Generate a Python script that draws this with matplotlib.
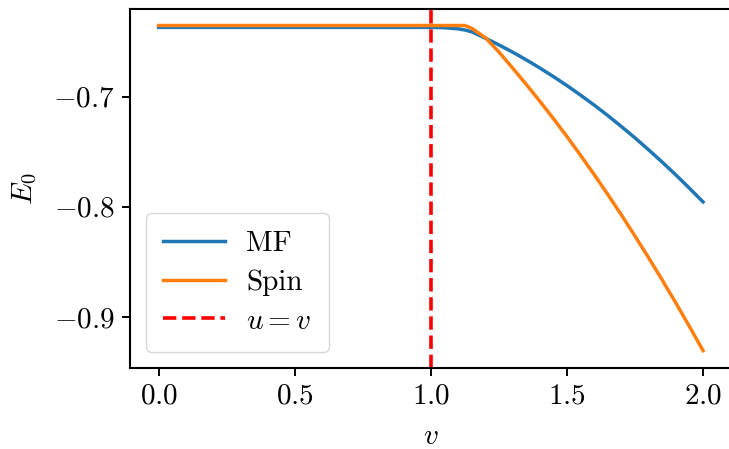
import matplotlib
matplotlib.use('Agg')
import matplotlib.pyplot as plt

plt.rcParams['font.family'] = 'serif'
plt.rcParams['font.serif'] = ['cmr10']
plt.rcParams['mathtext.fontset'] = 'cm'
plt.rcParams['axes.formatter.use_mathtext'] = True
plt.rcParams['font.size'] = 21

# data
v = [0.0, 0.25, 0.5, 0.75, 1.0, 1.05, 1.1, 1.125, 1.15, 1.2, 1.25, 1.3, 1.35, 1.4,
     1.45, 1.5, 1.55, 1.6, 1.65, 1.7, 1.75, 1.8, 1.85, 1.9, 1.95, 2.0]
e_mf = [-0.6372, -0.6372, -0.6372, -0.6372, -0.6372, -0.6375, -0.6385, -0.6396,
        -0.6412, -0.647, -0.6531, -0.6596, -0.6666, -0.674, -0.6818, -0.69, -0.6987,
        -0.7077, -0.7172, -0.7272, -0.7375, -0.7483, -0.7595, -0.7711, -0.7832, -0.7956]
e_spin = [-0.6355, -0.6355, -0.6355, -0.6355, -0.6355, -0.6355, -0.6355, -0.6355,
          -0.638, -0.6465, -0.6595, -0.674, -0.6888, -0.7041, -0.7199, -0.7363, -0.7533,
          -0.7708, -0.7888, -0.8074, -0.8266, -0.8463, -0.8665, -0.8873, -0.9087, -0.9306]

fig = plt.figure(figsize=(7.29, 4.49), dpi=100)
ax = fig.add_axes([0.178, 0.18, 0.826, 0.8])

ax.plot(v, e_mf, color='#1f77b4', lw=2.5, label='MF')
ax.plot(v, e_spin, color='#ff7f0e', lw=2.5, label='Spin')
ax.axvline(1.0, color='red', ls='--', lw=2.6, label='$u = v$')

ax.set_xlim(-0.106, 2.106)
ax.set_ylim(-0.9465, -0.6205)
ax.set_xticks([0.0, 0.5, 1.0, 1.5, 2.0])
ax.set_yticks([-0.9, -0.8, -0.7])
ax.set_xlabel('$v$', labelpad=10)
ax.set_ylabel('$E_0$', labelpad=10)
ax.tick_params(length=6, width=1.4, pad=5)
for s in ax.spines.values():
    s.set_linewidth(1.5)

ax.legend(loc='lower left', handlelength=2.1, borderpad=0.6, labelspacing=0.42,
          borderaxespad=0.55, handletextpad=0.75)

fig.savefig('out.png', dpi=100)
